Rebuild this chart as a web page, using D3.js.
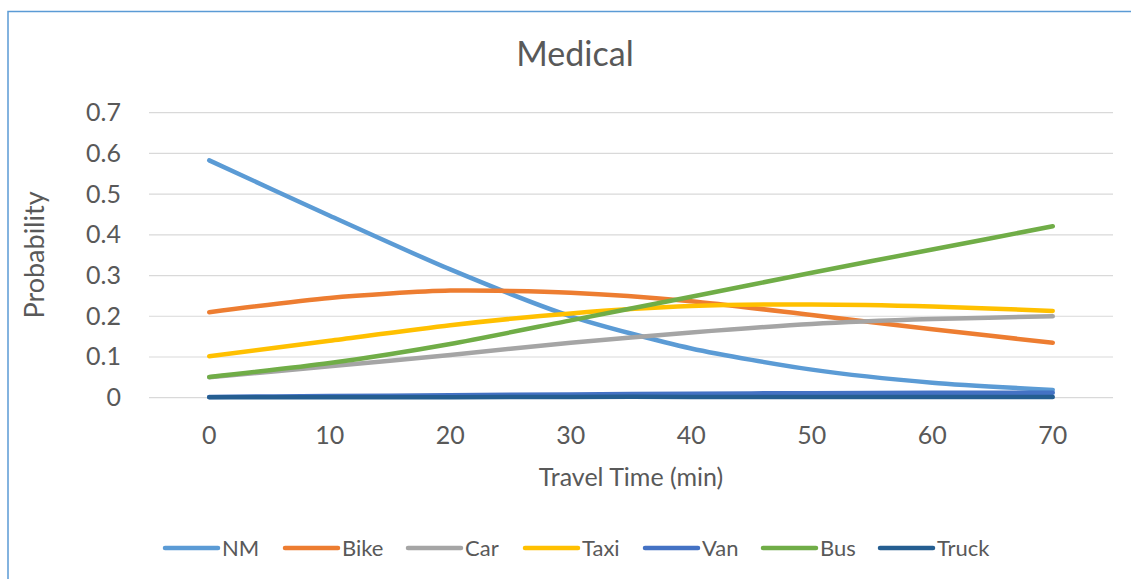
<!DOCTYPE html>
<html>
<head>
<meta charset="utf-8">
<script src="https://cdn.jsdelivr.net/npm/d3@7"></script>
<style>
  html, body { margin: 0; padding: 0; background: #fff; }
  svg { display: block; font-family: Lato, "Open Sans", sans-serif; }
</style>
</head>
<body>
<svg id="chart" width="1131" height="579"></svg>
<script>
// Travel time categories (minutes)
const travelTimes = [0, 10, 20, 30, 40, 50, 60, 70];

// Mode choice probabilities for medical trips
const nm    = [0.583, 0.447, 0.315, 0.200, 0.121, 0.069, 0.037, 0.019];
const bike  = [0.210, 0.245, 0.263, 0.258, 0.237, 0.203, 0.168, 0.135];
const car   = [0.050, 0.077, 0.105, 0.135, 0.160, 0.181, 0.193, 0.200];
const taxi  = [0.102, 0.140, 0.178, 0.207, 0.225, 0.229, 0.224, 0.213];
const van   = [0.002, 0.004, 0.006, 0.008, 0.010, 0.011, 0.012, 0.012];
const bus   = [0.051, 0.085, 0.132, 0.190, 0.248, 0.307, 0.364, 0.421];
const truck = [0.001, 0.001, 0.001, 0.002, 0.002, 0.002, 0.002, 0.002];

const seriesNames = ["NM", "Bike", "Car", "Taxi", "Van", "Bus", "Truck"];
const seriesValues = [nm, bike, car, taxi, van, bus, truck];
const seriesColors = ["#5B9BD5", "#ED7D31", "#A5A5A5", "#FFC000", "#4472C4", "#70AD47", "#255E91"];

const yTicks = [0, 0.1, 0.2, 0.3, 0.4, 0.5, 0.6, 0.7];

const svg = d3.select("#chart");
const textColor = "#595959";

// Chart area outline (top and left edges visible)
svg.append("path")
  .attr("d", "M8,579 L8,11.5 L1131,11.5")
  .attr("fill", "none")
  .attr("stroke", "#5B9BD5")
  .attr("stroke-width", 1.5);

const plot = { left: 149, right: 1113, top: 112.7, bottom: 397.7 };

const x = d3.scaleBand()
  .domain(travelTimes)
  .range([plot.left, plot.right]);

const y = d3.scaleLinear()
  .domain([0, 0.7])
  .range([plot.bottom, plot.top]);

// Horizontal gridlines
svg.append("g")
  .selectAll("line")
  .data(yTicks)
  .join("line")
  .attr("x1", plot.left)
  .attr("x2", plot.right)
  .attr("y1", d => y(d))
  .attr("y2", d => y(d))
  .attr("stroke", "#D9D9D9")
  .attr("stroke-width", 1.2);

// Y axis tick labels
const yAxis = d3.axisLeft(y).tickValues(yTicks).tickSize(0).tickPadding(0)
  .tickFormat(d => d === 0 ? "0" : d3.format(".1f")(d));
const yG = svg.append("g")
  .attr("transform", `translate(${plot.left - 28},0)`)
  .call(yAxis);
yG.select(".domain").remove();
yG.selectAll("text")
  .attr("fill", textColor)
  .style("font-family", "Lato, sans-serif")
  .style("font-size", "25px");

// X axis tick labels
const xAxis = d3.axisBottom(x).tickSize(0).tickPadding(0);
const xG = svg.append("g")
  .attr("transform", `translate(0,${plot.bottom + 29})`)
  .call(xAxis);
xG.select(".domain").remove();
xG.selectAll("text")
  .attr("fill", textColor)
  .style("font-family", "Lato, sans-serif")
  .style("font-size", "25px");

// Series lines, smoothed
const line = d3.line()
  .x((d, i) => x(travelTimes[i]) + x.bandwidth() / 2)
  .y(d => y(d))
  .curve(d3.curveCardinal.tension(0.3));

svg.append("g")
  .selectAll("path")
  .data(seriesValues)
  .join("path")
  .attr("d", d => line(d))
  .attr("fill", "none")
  .attr("stroke", (d, i) => seriesColors[i])
  .attr("stroke-width", 4.5)
  .attr("stroke-linecap", "round")
  .attr("stroke-linejoin", "round");

// Title
svg.append("text")
  .attr("x", 575)
  .attr("y", 66)
  .attr("text-anchor", "middle")
  .attr("fill", textColor)
  .style("font-size", "34px")
  .text("Medical");

// Axis titles
svg.append("text")
  .attr("x", 631)
  .attr("y", 486)
  .attr("text-anchor", "middle")
  .attr("fill", textColor)
  .style("font-size", "25px")
  .text("Travel Time (min)");

svg.append("text")
  .attr("transform", "translate(44,255) rotate(-90)")
  .attr("text-anchor", "middle")
  .attr("fill", textColor)
  .style("font-size", "27px")
  .text("Probability");

// Legend
const legendStarts = [165, 285, 408, 525, 645, 763, 880];
const legend = svg.append("g")
  .selectAll("g")
  .data(seriesNames)
  .join("g")
  .attr("transform", (d, i) => `translate(${legendStarts[i]},548)`);

legend.append("line")
  .attr("x1", 0).attr("x2", 53)
  .attr("y1", 0).attr("y2", 0)
  .attr("stroke", (d, i) => seriesColors[i])
  .attr("stroke-width", 4.5)
  .attr("stroke-linecap", "round");

legend.append("text")
  .attr("x", 57)
  .attr("y", 8)
  .attr("fill", textColor)
  .style("font-size", "22px")
  .text(d => d);
</script>
</body>
</html>
